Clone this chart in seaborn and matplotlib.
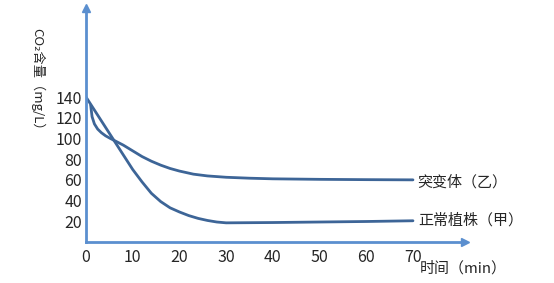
import matplotlib
matplotlib.use("Agg")
import matplotlib.pyplot as plt
import seaborn as sns
import pandas as pd

# Data
normal_x = [0, 2, 4, 6, 8, 10, 12, 14, 16, 18, 20, 22, 24, 26, 28, 30, 40, 50, 60, 70]
normal_y = [140, 126, 112, 98, 84, 70, 58, 47, 39, 33, 29, 25.5, 22.8, 20.8, 19.3, 18.5, 18.8, 19.3, 19.8, 20.5]
mutant_x = [1, 1.3, 1.8, 2.5, 3.3, 4.2, 5.2, 6.5, 8, 10, 12, 14, 16, 18, 20, 23, 26, 30, 35, 40, 50, 60, 70]
mutant_y = [132, 121, 114, 109, 105.5, 102.5, 100, 97, 93.5, 88, 82.5, 78, 74.2, 71, 68.5, 65.5, 63.8, 62.5, 61.6, 61, 60.5, 60.2, 60]
x_ticks = [0, 10, 20, 30, 40, 50, 60, 70]
y_ticks = [20, 40, 60, 80, 100, 120, 140]
label_normal = "正常植株（甲）"
label_mutant = "突变体（乙）"
x_title = "时间（min）"
y_title = "CO₂含量（mg/L）"

sns.set_style("white")
fam = ["Noto Sans CJK SC", "DejaVu Sans"]
plt.rcParams["font.family"] = fam

axis_color = "#5B8FCF"
line_color = "#3D6597"
text_color = "#262626"

fig = plt.figure(figsize=(5.54, 2.83), dpi=100)
ax = fig.add_axes([86/554, 41/283, (465-86)/554, (242-8)/283])

df_n = pd.DataFrame({"x": normal_x, "y": normal_y})
df_m = pd.DataFrame({"x": mutant_x, "y": mutant_y})
sns.lineplot(data=df_n, x="x", y="y", ax=ax, color=line_color, lw=2.0,
             sort=False, estimator=None)
sns.lineplot(data=df_m, x="x", y="y", ax=ax, color=line_color, lw=2.0,
             sort=False, estimator=None)

ax.set_xlim(0, (465-86)/4.671)
ax.set_ylim(0, (242-8)/1.0357)

for s in ["top", "right"]:
    ax.spines[s].set_visible(False)
for s in ["left", "bottom"]:
    ax.spines[s].set_color(axis_color)
    ax.spines[s].set_linewidth(2.0)

ax.plot(1, 0, ">", transform=ax.transAxes, clip_on=False, color=axis_color, ms=6)
ax.plot(0, 1, "^", transform=ax.transAxes, clip_on=False, color=axis_color, ms=6)

ax.set_xticks(x_ticks)
ax.set_yticks(y_ticks)
ax.set_xticklabels([str(v) for v in x_ticks])
ax.set_yticklabels([str(v) for v in y_ticks])
ax.tick_params(axis="both", direction="in", length=3, width=1.5, color=axis_color,
               labelsize=11.5, labelcolor=text_color, pad=3)
ax.tick_params(axis="x", pad=5)
ax.set_xlabel("")
ax.set_ylabel("")

ax.text((417-86)/4.671, (242-182)/1.0357, label_mutant, fontsize=10.8,
        color=text_color, va="center", ha="left", clip_on=False)
ax.text((418-86)/4.671, (242-220)/1.0357, label_normal, fontsize=10.8,
        color=text_color, va="center", ha="left", clip_on=False)
ax.text((420-86)/4.671, (242-268)/1.0357, x_title, fontsize=10.8,
        color=text_color, va="center", ha="left", clip_on=False)

fig.text(37/554, 1-82/283, y_title, rotation=270, fontsize=9.5,
         color=text_color, va="center", ha="center")

fig.savefig("out.png", dpi=100)
